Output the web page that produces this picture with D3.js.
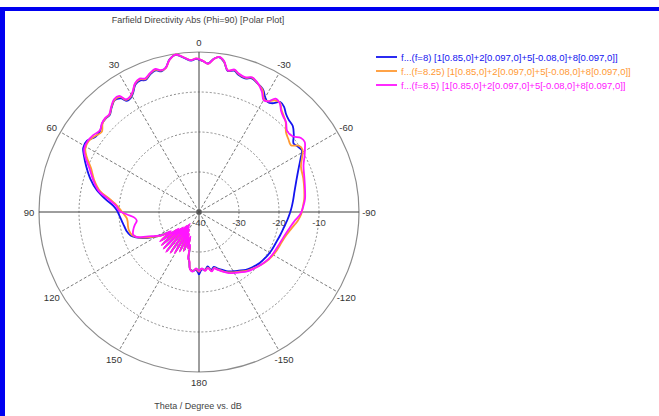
<!DOCTYPE html>
<html>
<head>
<meta charset="utf-8">
<script src="https://cdn.jsdelivr.net/npm/d3@7"></script>
<style>
  html, body { margin: 0; padding: 0; background: #fff; }
  svg { display: block; }
  text { font-family: "Liberation Sans", Arial, sans-serif; }
</style>
</head>
<body>
<svg id="chart" width="659" height="416"></svg>
<script>
// Theta sampling (degrees, positive = counter-clockwise from the top)
const thetaDeg = [-180,-177,-174,-171,-168,-165,-162,-158,-154,-150,
  -146,-141,-136,-130,-124,-118,-112,-106,-100,-95,
  -91,-87,-83,-78,-72,-66,-62,-59,-56.5,-54,
  -51,-47.5,-44,-41.5,-39,-36.5,-34,-32,-30,-27.5,
  -24,-21.5,-19,-16,-14,-11.5,-9.5,-7.5,-5.5,-3.5,
  -1.5,1,3,5.5,8.5,11,13,15,17,19.5,
  22,24,26.5,29,31,33,34.5,37,40,42.5,
  45,47.5,50.5,54,57.5,61,64,68,73,78,
  82,86,89,92,95,98,101,105,109,112,
  115,118,122,124.5,127,129,131.5,133.5,136,138,
  140.5,142.5,145,147,149.5,151.5,154,156,158.5,161,
  163,165,167,169,171,174,177,180];

// Directivity in dB at f = 8
const dbF8 = [-24.3,-25.6,-25.5,-26.2,-25.2,-25.8,-25.2,-24.4,-23.5,-22.9,
  -22.3,-21.4,-20.8,-20.2,-19.8,-19.5,-19.3,-18.9,-18.4,-17.8,
  -17.3,-16.8,-16.3,-15.6,-14.4,-12.7,-11.2,-10.0,-10.4,-10.8,
  -9.5,-8.2,-7.8,-7.2,-6.2,-5.8,-7.2,-7.6,-6.9,-5.4,
  -4.6,-4.1,-4.7,-4.3,-3.6,-4.0,-2.0,-1.0,-1.5,-2.8,
  -2.3,-1.7,-2.1,-1.3,-0.3,-1.2,-3.0,-3.6,-3.0,-3.5,
  -4.4,-4.0,-4.4,-6.0,-6.8,-6.9,-5.5,-5.0,-6.0,-7.0,
  -7.0,-7.2,-8.0,-8.0,-6.8,-6.9,-8.0,-9.6,-11.6,-13.9,
  -16.3,-18.6,-19.5,-20.0,-20.4,-20.7,-21.0,-21.3,-21.9,-23.0,
  -24.5,-26.5,-29.2,-31.0,-28.3,-33.0,-27.8,-34.0,-27.5,-35.0,
  -27.4,-36.0,-27.8,-35.0,-28.4,-34.5,-29.3,-33.5,-29.8,-33.0,
  -30.8,-31.0,-28.4,-27.2,-25.6,-25.2,-25.5,-24.3];

// Directivity in dB at f = 8.25
const dbF825 = [-25.0,-25.8,-25.3,-25.9,-24.9,-25.5,-24.9,-24.0,-23.2,-22.6,
  -22.0,-21.1,-20.4,-19.6,-18.9,-18.4,-18.1,-17.6,-16.5,-15.2,
  -14.4,-14.0,-13.5,-13.1,-12.6,-12.1,-10.8,-9.8,-10.0,-11.6,
  -11.2,-10.5,-8.8,-8.0,-7.2,-6.0,-6.3,-7.4,-7.5,-5.6,
  -4.5,-3.9,-4.5,-4.1,-3.4,-3.9,-1.9,-0.9,-1.6,-2.9,
  -2.2,-1.6,-2.0,-1.2,-0.2,-1.3,-3.1,-3.4,-2.8,-3.3,
  -4.2,-3.7,-4.2,-5.8,-6.6,-6.6,-5.1,-4.9,-5.9,-6.9,
  -6.9,-7.3,-8.5,-7.8,-7.2,-7.5,-8.8,-10.9,-12.6,-14.7,
  -17.6,-19.6,-20.5,-21.3,-21.9,-22.0,-21.9,-21.9,-22.3,-23.2,
  -24.8,-26.8,-29.0,-31.2,-28.0,-33.2,-27.6,-34.2,-27.3,-35.2,
  -27.2,-36.1,-27.6,-35.2,-28.2,-34.8,-29.1,-33.8,-29.6,-33.2,
  -30.6,-31.2,-28.2,-27.4,-25.6,-25.1,-25.7,-25.0];

// Directivity in dB at f = 8.5
const dbF85 = [-25.2,-25.9,-25.2,-25.8,-24.8,-25.4,-24.8,-23.9,-23.0,-22.4,
  -21.8,-20.9,-20.3,-19.6,-19.0,-18.7,-18.4,-17.9,-17.0,-15.9,
  -14.6,-13.9,-13.3,-12.9,-12.3,-11.4,-10.1,-9.1,-8.3,-8.5,
  -9.9,-10.1,-8.7,-8.2,-7.4,-6.1,-5.8,-7.4,-7.7,-6.0,
  -4.4,-3.8,-4.4,-4.0,-3.3,-3.9,-1.8,-0.9,-1.6,-2.9,
  -2.2,-1.6,-2.0,-1.2,-0.2,-1.3,-3.0,-3.3,-2.6,-3.2,
  -4.0,-3.5,-4.1,-5.7,-6.4,-6.4,-4.8,-4.7,-5.8,-6.8,
  -6.8,-7.1,-7.9,-7.3,-7.0,-7.2,-8.3,-10.4,-12.3,-14.3,
  -17.2,-19.3,-20.0,-22.0,-23.8,-24.3,-23.7,-23.0,-22.6,-23.3,
  -25.4,-27.2,-29.0,-31.5,-27.8,-33.5,-27.5,-34.5,-27.2,-35.5,
  -27.0,-36.3,-27.5,-35.5,-28.0,-35.0,-29.0,-34.0,-29.5,-33.5,
  -30.5,-31.5,-28.0,-27.5,-25.5,-25.0,-25.9,-25.2];

const seriesNames = [
  "f...(f=8) [1[0.85,0]+2[0.097,0]+5[-0.08,0]+8[0.097,0]]",
  "f...(f=8.25) [1[0.85,0]+2[0.097,0]+5[-0.08,0]+8[0.097,0]]",
  "f...(f=8.5) [1[0.85,0]+2[0.097,0]+5[-0.08,0]+8[0.097,0]]"
];
const seriesColors = ["#1414f0", "#ff9933", "#ff14ff"];
const seriesValues = [dbF8, dbF825, dbF85];

const angleTicks = [0, 30, 60, 90, 120, 150, 180, -150, -120, -90, -60, -30];
const ringTicks = [-40, -30, -20, -10];

const chartTitle = "Farfield Directivity Abs (Phi=90) [Polar Plot]";
const axisTitle = "Theta / Degree vs. dB";

// ---- layout ----
const W = 659, H = 416;
const cx = 199, cy = 212, R = 160;
const svg = d3.select("#chart");

// window frame
svg.append("rect").attr("x", 0).attr("y", 7).attr("width", W).attr("height", 4).attr("fill", "#0000f0");
svg.append("rect").attr("x", 0).attr("y", 7).attr("width", 5).attr("height", H - 7).attr("fill", "#0000f0");

const r = d3.scaleLinear().domain([-40, 0]).range([0, R]).clamp(true);
const toRad = d => d * Math.PI / 180;
const px = (deg, rad) => cx - rad * Math.sin(toRad(deg));
const py = (deg, rad) => cy - rad * Math.cos(toRad(deg));

const g = svg.append("g");

// dotted dB rings
g.selectAll("circle.ring").data(ringTicks.filter(d => d > -40)).join("circle")
  .attr("class", "ring")
  .attr("cx", cx).attr("cy", cy).attr("r", d => r(d))
  .attr("fill", "none").attr("stroke", "#8a8a8a").attr("stroke-width", 1)
  .attr("stroke-dasharray", "2,2");

// dashed spokes
g.selectAll("line.spoke").data(angleTicks.filter(a => a % 90 !== 0)).join("line")
  .attr("class", "spoke")
  .attr("x1", cx).attr("y1", cy)
  .attr("x2", a => px(a, R)).attr("y2", a => py(a, R))
  .attr("stroke", "#7a7a7a").attr("stroke-width", 1)
  .attr("stroke-dasharray", "3,2");

// outer circle
g.append("circle").attr("cx", cx).attr("cy", cy).attr("r", R)
  .attr("fill", "none").attr("stroke", "#8c8c8c").attr("stroke-width", 1.2);

// solid axes
g.append("line").attr("x1", cx - R).attr("y1", cy).attr("x2", cx + R).attr("y2", cy)
  .attr("stroke", "#3c3c3c").attr("stroke-width", 1);
g.append("line").attr("x1", cx).attr("y1", cy - R).attr("x2", cx).attr("y2", cy + R)
  .attr("stroke", "#3c3c3c").attr("stroke-width", 1);

// angle labels
g.selectAll("text.ang").data(angleTicks).join("text")
  .attr("class", "ang")
  .attr("x", a => px(a, 170)).attr("y", a => py(a, 170) + 3.5)
  .attr("text-anchor", "middle")
  .attr("font-size", 9.5).attr("fill", "#333")
  .text(d => d);

// ring labels
g.selectAll("text.rl").data(ringTicks).join("text")
  .attr("class", "rl")
  .attr("x", d => cx + r(d)).attr("y", cy + 14)
  .attr("text-anchor", "middle")
  .attr("font-size", 9.5).attr("fill", "#444")
  .text(d => d);

// traces
const line = d3.lineRadial()
  .angle(d => -toRad(d[0]))
  .radius(d => r(d[1]))
  .curve(d3.curveCatmullRom.alpha(0.5));

const traces = svg.append("g").attr("transform", `translate(${cx},${cy})`);
seriesValues.forEach((vals, i) => {
  const pts = thetaDeg.map((t, k) => [t, vals[k]]);
  traces.append("path")
    .attr("d", line(pts))
    .attr("fill", "none")
    .attr("stroke", seriesColors[i])
    .attr("stroke-width", 1.8)
    .attr("stroke-linejoin", "round");
});

// centre marker
svg.append("circle").attr("cx", cx).attr("cy", cy).attr("r", 2.2)
  .attr("fill", "none").attr("stroke", "#444").attr("stroke-width", 1);

// titles
svg.append("text").attr("x", 198).attr("y", 23).attr("text-anchor", "middle")
  .attr("font-size", 9).attr("fill", "#444").text(chartTitle);
svg.append("text").attr("x", 198).attr("y", 409).attr("text-anchor", "middle")
  .attr("font-size", 9).attr("fill", "#444").text(axisTitle);

// legend
const leg = svg.append("g");
seriesNames.forEach((name, i) => {
  const y = 57 + i * 14;
  leg.append("line").attr("x1", 376).attr("x2", 397).attr("y1", y).attr("y2", y)
    .attr("stroke", seriesColors[i]).attr("stroke-width", 1.8);
  leg.append("text").attr("x", 401).attr("y", y + 3.5)
    .attr("font-size", 9.5).attr("fill", seriesColors[i]).text(name);
});
</script>
</body>
</html>
